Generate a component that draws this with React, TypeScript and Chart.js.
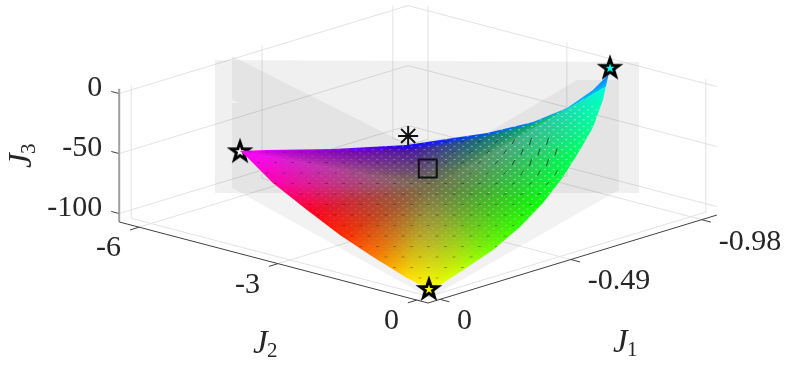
import React, { useEffect, useRef } from "react";
import { Chart, registerables } from "chart.js";

Chart.register(...registerables);

// Axis limits and ticks
const J1_LIMITS = [-1.037, 0.045];
const J2_LIMITS = [-6.43, 0.24];
const J3_LIMITS = [-107, 4];
const J1_TICKS = [0, -0.49, -0.98];
const J2_TICKS = [-6, -3, 0];
const J3_TICKS = [0, -50, -100];
const J1_TICK_LABELS = ["0", "-0.49", "-0.98"];
const J2_TICK_LABELS = ["-6", "-3", "0"];
const J3_TICK_LABELS = ["0", "-50", "-100"];

// Outline of the Pareto surface: from the J2 minimum, to the J3 maximum, to the origin corner
const SURFACE_J1 = [-0.333, -0.38, -0.496, -0.625, -0.764, -0.846, -0.904, -0.951, -0.976, -0.98, -0.91, -0.837, -0.755, -0.655, -0.545, -0.426, -0.294, -0.154, -0.047, 0, -0.034, -0.096, -0.154, -0.213, -0.274, -0.321];
const SURFACE_J2 = [-6, -5.69, -4.93, -4.08, -3.15, -2.63, -2.23, -1.94, -1.76, -1.74, -1.49, -1.28, -1.09, -0.88, -0.68, -0.49, -0.31, -0.15, -0.03, 0, -0.67, -1.76, -2.81, -3.86, -4.95, -5.78];
const SURFACE_J3 = [-69.1, -68.3, -67.7, -64.5, -54.5, -45.6, -33.8, -19.1, -6.4, -0.6, -20, -35.5, -47.2, -60.7, -73, -83, -91.4, -96.9, -101, -100.8, -100.75, -98.5, -94.75, -88.5, -81.2, -71.1];
// Colour on the very edge of the outline
const EDGE_COLOURS = [
  [255, 0, 255], [225, 0, 255], [140, 0, 255], [20, 0, 255], [0, 80, 255], [0, 130, 255], [0, 190, 250], [0, 235, 250], [0, 255, 250],
  [0, 255, 255], [0, 255, 190], [0, 255, 150], [0, 255, 100], [0, 255, 60], [10, 255, 10], [50, 255, 0], [110, 255, 0], [190, 255, 0], [235, 255, 0],
  [255, 255, 0], [255, 220, 0], [255, 120, 0], [255, 40, 0], [255, 0, 40], [255, 0, 170], [255, 0, 245],
];
// Colour just inside that edge
const INNER_COLOURS = [
  [255, 0, 255], [200, 0, 220], [130, 0, 190], [70, 10, 170], [10, 110, 130], [0, 165, 125], [0, 215, 125], [0, 240, 150], [0, 255, 200],
  [0, 255, 255], [0, 255, 190], [0, 255, 150], [0, 255, 100], [0, 255, 60], [10, 255, 10], [50, 255, 0], [110, 255, 0], [190, 255, 0], [235, 255, 0],
  [255, 255, 0], [255, 220, 0], [255, 120, 0], [255, 40, 0], [255, 0, 40], [255, 0, 170], [255, 0, 245],
];
const CENTRE_COLOUR = [115, 115, 75];

// Grey backdrop patches
const PANEL_J1 = [0.843, -0.745, -0.745, 0.843];
const PANEL_J2 = [0.24, 0.24, 0.24, 0.24];
const PANEL_J3 = [149.6, 40.3, -68.8, 38.7];
const SHADOW_J1 = [0.779, 0.131, -0.176, -0.513, -0.67, -0.67, 0.037, 0.779, 0.779, 0.753, 0.779];
const SHADOW_J2 = [0.24, 0.24, 0.24, 0.24, 0.24, 0.24, 0.24, 0.24, 0.24, 0.24, 0.24];
const SHADOW_J3 = [148.6, 32.2, 19.7, 41, 30.4, -61.2, -103.3, 38.6, 109.4, 107.7, 111.9];

// Marked points
const ANCHOR_J1 = [-0.333, -0.98, 0];
const ANCHOR_J2 = [-6, -1.74, 0];
const ANCHOR_J3 = [-69.3, -0.4, -100.8];
const UTOPIA = [-0.98, -6.1, -101.4];
const KNEE = [-0.49, -2.85, -62.4];

const project = (j1: number, j2: number, j3: number) => {
  const u = J1_LIMITS[1] - j1;
  const v = j2 - J2_LIMITS[1];
  return {
    x: 428 + 267 * u + 46.3 * v,
    y: 303 - 81.3 * u + 12.15 * v - 1.2 * (j3 - J3_LIMITS[0]),
  };
};

const path = (a: number[], b: number[], c: number[]) => a.map((v, i) => project(v, b[i], c[i]));

const segment = (p: number[], q: number[], colour: string, width: number, order: number) => ({
  data: [project(p[0], p[1], p[2]), project(q[0], q[1], q[2])],
  showLine: true,
  borderColor: colour,
  borderWidth: width,
  pointRadius: 0,
  order,
});

const patch = (points: { x: number; y: number }[], fillColour: any, order: number) => ({
  data: points,
  showLine: true,
  fill: "shape",
  backgroundColor: fillColour,
  borderColor: "rgba(0,0,0,0)",
  borderWidth: 0,
  pointRadius: 0,
  order,
});

const mix3 = (a: number[], b: number[], s: number) => [a[0] + (b[0] - a[0]) * s, a[1] + (b[1] - a[1]) * s, a[2] + (b[2] - a[2]) * s];

function surfacePattern(outline: { x: number; y: number }[]) {
  const c = document.createElement("canvas");
  c.width = 792;
  c.height = 375;
  const ctx = c.getContext("2d")!;
  const img = ctx.createImageData(792, 375);
  const cx = 432;
  const cy = 186;
  const n = outline.length;
  for (let y = 50; y < 310; y++) {
    for (let x = 225; x < 630; x++) {
      const dx = x - cx;
      const dy = y - cy;
      let best = 1e9;
      let inner = CENTRE_COLOUR;
      let edge = CENTRE_COLOUR;
      for (let i = 0; i < n; i++) {
        const p = outline[i];
        const q = outline[(i + 1) % n];
        const ex = q.x - p.x;
        const ey = q.y - p.y;
        const den = dx * ey - dy * ex;
        if (Math.abs(den) < 1e-9) continue;
        const t = ((p.x - cx) * ey - (p.y - cy) * ex) / den;
        const s = ((p.x - cx) * dy - (p.y - cy) * dx) / den;
        if (t > 0 && s >= 0 && s <= 1 && t < best) {
          best = t;
          inner = mix3(INNER_COLOURS[i], INNER_COLOURS[(i + 1) % n], s);
          edge = mix3(EDGE_COLOURS[i], EDGE_COLOURS[(i + 1) % n], s);
        }
      }
      const r = Math.min(1, 1 / best);
      const dist = Math.hypot(dx, dy) * Math.max(0, best - 1);
      const band = Math.max(0, 1 - dist / 6);
      const base = mix3(CENTRE_COLOUR, inner, Math.pow(r, 1.15));
      const col = mix3(base, edge, band);
      const o = (y * 792 + x) * 4;
      img.data[o] = col[0];
      img.data[o + 1] = col[1];
      img.data[o + 2] = col[2];
      img.data[o + 3] = 255;
    }
  }
  ctx.putImageData(img, 0, 0);
  // mesh texture: pale dots, stronger to the right and fading toward the lower corner
  for (let j = 0; j < 90; j++) {
    const y = 60 + j * 3.3;
    if (y < 105) continue;
    for (let i = 0; i < 60; i++) {
      const x = 230 + i * 8.6 + (j % 2) * 4.3;
      const h = Math.max(0, Math.min(1, (x - 290) / 210));
      const w = Math.max(0, Math.min(1, (262 - y) / 70));
      const a = 0.05 + 0.45 * h * w;
      ctx.fillStyle = `rgba(255,255,255,${a})`;
      ctx.fillRect(x, y, 2, 1);
    }
  }
  // mesh texture: sparse dark dashes, steeper toward the upper right
  ctx.lineWidth = 1;
  for (let j = 0; j < 20; j++) {
    const y = 110 + j * 10.5;
    if (y < 132) continue;
    for (let i = 0; i < 22; i++) {
      const x = 250 + i * 17 + (j % 2) * 8.5;
      if (x > 560) continue;
      const h = Math.max(0, Math.min(1, (x - 440) / 90)) * Math.max(0, Math.min(1, (205 - y) / 40));
      const len = 1.5 + 2 * h;
      ctx.strokeStyle = `rgba(0,0,0,${0.3 + 0.3 * h})`;
      ctx.beginPath();
      ctx.moveTo(x - len * (1 - 0.7 * h), y + len * h);
      ctx.lineTo(x + len * (1 - 0.7 * h), y - len * h);
      ctx.stroke();
    }
  }
  return ctx.createPattern(c, "no-repeat");
}

function starImage(fillColour: string) {
  const size = 30;
  const c = document.createElement("canvas");
  c.width = size;
  c.height = size;
  const ctx = c.getContext("2d")!;
  ctx.beginPath();
  for (let i = 0; i < 10; i++) {
    const r = i % 2 === 0 ? 9.5 : 3.8;
    const a = -Math.PI / 2 + (i * Math.PI) / 5;
    const x = size / 2 + r * Math.cos(a);
    const y = size / 2 + 0.5 + r * Math.sin(a);
    if (i === 0) ctx.moveTo(x, y);
    else ctx.lineTo(x, y);
  }
  ctx.closePath();
  ctx.fillStyle = fillColour;
  ctx.fill();
  ctx.strokeStyle = "#000";
  ctx.lineWidth = 3;
  ctx.lineJoin = "miter";
  ctx.miterLimit = 6;
  ctx.stroke();
  return c;
}

const SERIF = '"Liberation Serif", serif';
const INK = "#262626";

const labelsPlugin = {
  id: "axisText",
  afterDraw(chart: any) {
    const ctx = chart.ctx;
    ctx.save();
    ctx.fillStyle = INK;
    ctx.textBaseline = "middle";
    ctx.font = `30px ${SERIF}`;
    ctx.textAlign = "right";
    J3_TICKS.forEach((t, i) => {
      const p = project(J1_LIMITS[1], J2_LIMITS[0], t);
      ctx.fillText(J3_TICK_LABELS[i], p.x - 17, p.y - 5);
    });
    J2_TICKS.forEach((t, i) => {
      const p = project(J1_LIMITS[1], t, J3_LIMITS[0]);
      ctx.fillText(J2_TICK_LABELS[i], p.x - 18, p.y + 21);
    });
    ctx.textAlign = "left";
    J1_TICKS.forEach((t, i) => {
      const p = project(t, J2_LIMITS[1], J3_LIMITS[0]);
      ctx.fillText(J1_TICK_LABELS[i], p.x + 17, p.y + 22);
    });
    const name = (x: number, y: number, sub: string, rot: number) => {
      ctx.save();
      ctx.translate(x, y);
      ctx.rotate(rot);
      ctx.textAlign = "left";
      ctx.font = `italic 33px ${SERIF}`;
      ctx.fillText("J", 0, 0);
      ctx.font = `21px ${SERIF}`;
      ctx.fillText(sub, 14, 7);
      ctx.restore();
    };
    name(253, 344, "2", 0);
    name(613, 343, "1", 0);
    name(22, 168, "3", -Math.PI / 2);
    ctx.restore();
  },
};

export default function App() {
  const ref = useRef<HTMLCanvasElement>(null);
  useEffect(() => {
    const [j1a, j1b] = J1_LIMITS;
    const [j2a, j2b] = J2_LIMITS;
    const [j3a, j3b] = J3_LIMITS;
    const GRID = "#e2e2e2";
    const outline = path(SURFACE_J1, SURFACE_J2, SURFACE_J3);
    const datasets: any[] = [];

    J1_TICKS.forEach((t) => {
      datasets.push(segment([t, j2a, j3a], [t, j2b, j3a], GRID, 1, 50));
      datasets.push(segment([t, j2a, j3a], [t, j2a, j3b], GRID, 1, 50));
      datasets.push(segment([t, j2b, j3a], [t, j2b + 0.2, j3a], "#404040", 1, 5));
    });
    J2_TICKS.forEach((t) => {
      datasets.push(segment([j1a, t, j3a], [j1b, t, j3a], GRID, 1, 50));
      datasets.push(segment([j1a, t, j3a], [j1a, t, j3b], GRID, 1, 50));
      datasets.push(segment([j1b, t, j3a], [j1b + 0.034, t, j3a], "#404040", 1, 5));
    });
    J3_TICKS.forEach((t) => {
      datasets.push(segment([j1b, j2a, t], [j1a, j2a, t], GRID, 1, 50));
      datasets.push(segment([j1a, j2a, t], [j1a, j2b, t], GRID, 1, 50));
      datasets.push(segment([j1b, j2a, t], [j1b, j2a - 0.17, t], "#404040", 1, 5));
    });
    datasets.push(segment([j1b, j2a, j3a], [j1b, j2b, j3a], "#404040", 1, 4));
    datasets.push(segment([j1a, j2b, j3a], [j1b, j2b, j3a], "#404040", 1, 4));
    datasets.push(segment([j1b, j2a, j3a], [j1b, j2a, j3b], "#a0a0a0", 2, 4));

    datasets.push(patch(path(PANEL_J1, PANEL_J2, PANEL_J3), "rgba(0,0,0,0.058)", 40));
    datasets.push(patch(path(SHADOW_J1, SHADOW_J2, SHADOW_J3), "rgba(0,0,0,0.05)", 39));

    const u = project(UTOPIA[0], UTOPIA[1], UTOPIA[2]);
    datasets.push({
      data: [u],
      pointStyle: "star",
      pointRadius: 10,
      pointBorderWidth: 2,
      pointBorderColor: "#111",
      pointBackgroundColor: "#111",
      order: 30,
    });
    const anchors = path(ANCHOR_J1, ANCHOR_J2, ANCHOR_J3);
    datasets.push({
      data: [anchors[0]],
      pointStyle: starImage("#ffffff"),
      pointRadius: 10,
      order: 25,
    });
    datasets.push(patch(outline, surfacePattern(outline), 20));
    datasets.push({
      data: [project(KNEE[0], KNEE[1], KNEE[2])],
      pointStyle: "rect",
      pointRadius: 12.7,
      pointBorderWidth: 2,
      pointBorderColor: "#111",
      pointBackgroundColor: "rgba(0,0,0,0)",
      order: 3,
    });
    datasets.push({ data: [anchors[1]], pointStyle: starImage("#00ffff"), pointRadius: 10, order: 2 });
    datasets.push({ data: [anchors[2]], pointStyle: starImage("#ffff00"), pointRadius: 10, order: 1 });

    const chart = new Chart(ref.current!, {
      type: "scatter",
      data: { datasets },
      options: {
        animation: false,
        responsive: false,
        layout: { padding: 0, autoPadding: false },
        plugins: { legend: { display: false }, tooltip: { enabled: false }, title: { display: false } },
        scales: {
          x: { type: "linear", min: 0, max: 792, display: false },
          y: { type: "linear", min: 0, max: 375, reverse: true, display: false },
        },
      },
      plugins: [labelsPlugin],
    } as any);
    return () => chart.destroy();
  }, []);
  return (
    <div style={{ position: "fixed", left: 0, top: 0, width: 792, height: 375, background: "#fff" }}>
      <canvas ref={ref} width={792} height={375} style={{ display: "block" }} />
    </div>
  );
}
